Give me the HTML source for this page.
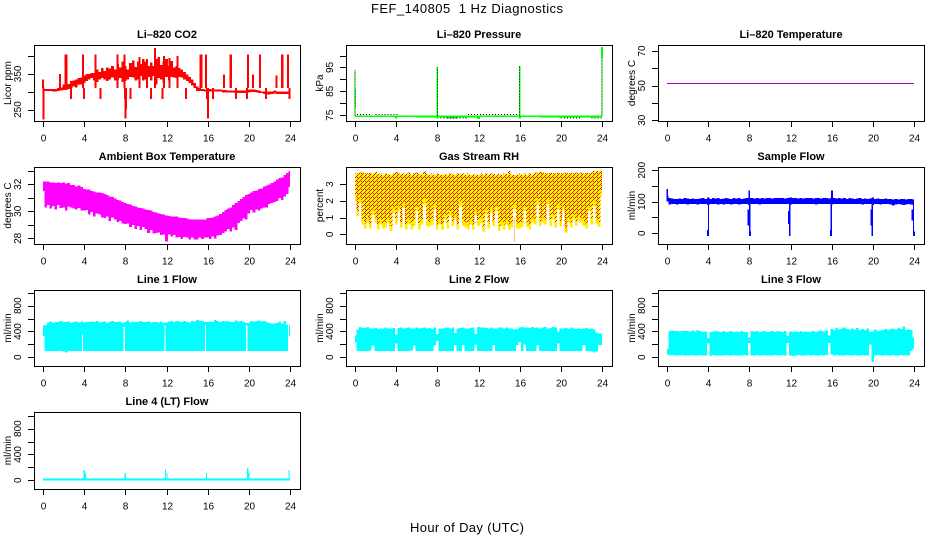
<!DOCTYPE html>
<html lang="en">
<head>
<meta charset="utf-8">
<title>FEF_140805 1 Hz Diagnostics</title>
<style>
html,body{margin:0;padding:0;background:#fff;}
svg{display:block;font-family:"Liberation Sans",sans-serif;}
text{fill:#000;}
</style>
</head>
<body>
<svg id="chart" xmlns="http://www.w3.org/2000/svg" width="936" height="540" viewBox="0 0 936 540">
  <defs>
    <pattern id="rh-hatch" patternUnits="userSpaceOnUse" width="4" height="4">
      <rect width="4" height="4" fill="#ffff00" shape-rendering="crispEdges"/>
      <rect x="0" y="0" width="1" height="1" fill="#ff0000" shape-rendering="crispEdges"/>
      <rect x="1" y="1" width="1" height="1" fill="#ff0000" shape-rendering="crispEdges"/>
      <rect x="3" y="1" width="1" height="1" fill="#ff0000" shape-rendering="crispEdges"/>
      <rect x="2" y="2" width="1" height="1" fill="#ff0000" shape-rendering="crispEdges"/>
      <rect x="1" y="3" width="1" height="1" fill="#ff0000" shape-rendering="crispEdges"/>
    </pattern>
  </defs>
  <text x="467" y="13" font-size="13" text-anchor="middle" textLength="192" lengthAdjust="spacing" xml:space="preserve">FEF_140805  1 Hz Diagnostics</text>
  <text x="467" y="532" font-size="13" text-anchor="middle" textLength="114" lengthAdjust="spacing">Hour of Day (UTC)</text>
</svg>
<script>
/* shared x axis */
const hourTicks = [0,4,8,12,16,20,24];
const binHours = [0,0.25,0.5,0.75,1,1.25,1.5,1.75,2,2.25,2.5,2.75,3,3.25,3.5,3.75,4,4.25,4.5,4.75,5,5.25,5.5,5.75,6,6.25,6.5,6.75,7,7.25,7.5,7.75,8,8.25,8.5,8.75,9,9.25,9.5,9.75,10,10.25,10.5,10.75,11,11.25,11.5,11.75,12,12.25,12.5,12.75,13,13.25,13.5,13.75,14,14.25,14.5,14.75,15,15.25,15.5,15.75,16,16.25,16.5,16.75,17,17.25,17.5,17.75,18,18.25,18.5,18.75,19,19.25,19.5,19.75,20,20.25,20.5,20.75,21,21.25,21.5,21.75,22,22.25,22.5,22.75,23,23.25,23.5,23.75,24];

/* Li-820 CO2 */
const co2High = [312,308,308,308,308,308,310,312,320,318,322,330,332,335,338,340,345,350,350,352,352,362,356,366,358,368,365,372,362,378,368,385,372,362,380,388,370,385,378,392,385,372,382,372,392,398,375,385,392,372,386,368,372,366,362,355,348,342,335,325,315,310,308,306,307,307,306,306,306,306,305,305,304,304,304,304,304,303,303,304,306,306,306,305,303,301,300,300,300,301,303,301,301,301,301,301,301];
const co2Low = [302,302,302,302,300,300,302,304,305,305,308,310,315,312,320,320,325,330,335,338,332,328,335,338,335,330,335,340,332,335,338,328,330,335,342,340,332,335,344,332,335,342,332,344,320,338,335,325,342,332,342,340,338,342,340,335,330,325,318,310,302,302,302,300,300,300,300,301,300,300,298,298,298,298,298,297,297,297,296,296,298,299,299,298,296,296,294,292,292,294,295,294,294,294,294,294,294];
const co2SpikeHours = [0.02,0.05,1.65,2.2,2.28,2.7,3.9,3.97,5.1,5.6,6.2,7.25,7.9,7.95,8.02,8.08,8.5,8.9,9.4,10.1,10.5,10.9,11.15,11.6,11.75,12.3,13.05,13.9,13.95,15.3,15.38,15.85,15.92,16.05,16.5,17.6,18.2,18.28,18.75,19.8,19.9,20.4,21.1,21.65,22.7,23.2,23.28,23.8,23.95];
const co2SpikeValues = [335,222,350,405,405,279,405,279,405,279,311,405,405,279,225,250,279,311,398,392,279,423,311,279,400,395,400,279,311,405,405,405,280,225,279,348,405,405,279,279,405,348,405,279,345,405,405,405,280];

/* Li-820 Pressure */
const pressureHigh = [75,75,75,75,75,75,75,75,75,75,75,75,75,75,75,75,75,75,75,75,74.9,74.9,74.9,74.9,74.9,74.9,74.9,74.9,74.9,74.9,74.9,74.9,74.9,74.9,74.9,74.9,74.9,74.9,74.9,74.9,74.9,74.9,74.9,74.9,74.9,74.9,74.9,74.9,74.9,74.9,74.9,75,75,75,75,75,75,75,75,75,75,75,75,75,75,75,75,74.9,74.9,74.9,74.9,74.9,74.9,74.9,74.9,74.9,74.9,74.9,74.9,74.9,74.9,74.9,74.9,74.9,74.9,74.9,74.9,74.9,74.9,74.9,74.9,74.9,74.9,74.9,74.9,74.9,74.9];
const pressureLow = [74.2,74.2,74.2,74.2,74.2,74.2,74.2,74.2,74.2,74.2,74.2,74.2,74.2,74.2,74.2,74.2,73.6,74.2,74.2,74.2,74.2,74.2,74.2,74.2,74.1,74.1,74.1,74.1,74.1,74.1,74.1,74.1,73.6,74.1,74.1,74.1,74.1,74.1,74.1,74.1,74.1,74.1,74.1,74.1,74.1,74.1,74.1,74.1,73.5,74.2,74.2,74.2,74.2,74.2,74.2,74.2,74.2,74.2,74.2,74.2,74.2,74.2,74.2,74.2,73.6,74.2,74.2,74.2,74.2,74.2,74.2,74.2,74.1,74.1,74.1,74.1,74.1,74.1,74.1,74.1,73.7,74.1,74.1,74.1,74.1,74.1,74.1,74.1,74.1,74.1,74.1,74.1,74.1,74.1,74.1,74.1,73.7];
const pressureDotStarts = [0.2,2,11,14.5,8,9,20,23];
const pressureDotEnds = [1.5,4.2,15.5,16.2,10,11,22,24];
const pressureDotValues = [75.3,75.3,75.3,75.3,73.9,73.9,73.9,73.9];
const pressureSpikeHours = [0.02,8,16,24];
const pressureSpikeHighs = [94,95.3,95.6,99];
const pressureGreenHours = [0.03,8,16,24];
const pressureGreenLows = [78,75,75,99];
const pressureGreenHighs = [86,95.3,95.6,103.5];
const pressureFaintHours = [0.02,24];
const pressureFaintHighs = [94,99];

/* Li-820 Temperature */
const temperatureHours = [0,2,4,6,8,10,12,14,16,18,20,22,24];
const temperatureValues = [51.3,51.3,51.3,51.3,51.3,51.3,51.3,51.3,51.3,51.3,51.3,51.3,51.3];

/* Ambient Box Temperature */
const ambientHigh = [32.2,32.2,32.2,32.15,32.15,32.1,32.15,32.1,32.15,32.05,32.1,31.95,31.95,31.85,31.9,31.8,31.65,31.6,31.6,31.5,31.45,31.4,31.4,31.35,31.3,31.2,31.1,31.05,30.95,30.85,30.8,30.7,30.6,30.55,30.5,30.4,30.35,30.3,30.25,30.2,30.15,30.1,30.05,29.95,29.9,29.85,29.8,29.75,29.7,29.65,29.6,29.6,29.6,29.55,29.5,29.5,29.45,29.4,29.4,29.4,29.4,29.4,29.4,29.4,29.5,29.5,29.55,29.6,29.7,29.8,29.95,30.1,30.2,30.3,30.45,30.6,30.75,30.9,31.05,31.2,31.3,31.4,31.5,31.55,31.65,31.7,31.85,31.9,32,32.1,32.2,32.35,32.45,32.5,32.7,32.85,33];
const ambientLow = [31.5,30.3,30.45,30.2,30.4,30.15,30.45,30.25,30.3,30.05,30.35,30.3,30.2,30.15,30.25,30.05,30.05,30.1,29.75,29.95,29.6,29.85,29.75,29.55,29.5,29.6,29.3,29.55,29.4,29.2,29.3,29.1,29.05,29.1,28.85,29,28.7,28.9,28.6,28.85,28.7,28.4,28.6,28.35,28.4,28.45,28.25,28.3,27.75,28.3,28.15,28.25,28.05,28.1,27.95,28.1,28.05,27.9,28.05,27.9,27.9,28.05,27.95,28.05,28.05,27.95,28.15,28,28.2,28.25,28.4,28.5,28.7,28.5,28.8,28.6,29.15,29.3,29.45,29.4,29.85,30.1,29.9,30.15,30.05,30.2,30.3,30.3,30.55,30.6,30.7,30.75,31,30.85,31.1,31.3,31.8];

/* Gas Stream RH */
const rhHigh = [3.65,3.65,3.7,3.75,3.65,3.65,3.7,3.6,3.75,3.6,3.65,3.55,3.65,3.6,3.55,3.65,3.75,3.65,3.6,3.65,3.6,3.7,3.55,3.65,3.7,3.6,3.55,3.75,3.6,3.55,3.65,3.55,3.65,3.6,3.55,3.6,3.55,3.65,3.6,3.55,3.65,3.6,3.65,3.55,3.65,3.55,3.6,3.55,3.55,3.65,3.55,3.65,3.55,3.65,3.6,3.55,3.6,3.55,3.65,3.6,3.8,3.55,3.55,3.55,3.65,3.55,3.65,3.55,3.65,3.55,3.75,3.65,3.75,3.7,3.65,3.65,3.7,3.65,3.65,3.7,3.65,3.65,3.7,3.65,3.7,3.65,3.7,3.65,3.7,3.65,3.7,3.65,3.7,3.8,3.8,3.8,3.8];
const rhLow = [2,1.1,1.9,0.6,0.35,0.75,0.35,1.2,0.7,0.3,0.6,0.35,0.4,0.7,0.2,1.3,0.6,1.4,0.4,1.6,0.3,0.6,0.3,0.5,1.4,0.3,0.6,1.8,0.5,0.45,0.55,1.5,0.3,0.6,0.3,0.9,0.35,1.1,0.5,0.9,0.3,1.7,0.5,0.4,0.3,0.6,0.3,1.2,0.5,0.7,0.15,1.2,0.35,1.3,0.5,1.4,0.2,0.5,0.3,0.6,0.3,0.4,1.5,0.35,0.35,0.45,1.4,0.45,0.3,0.7,0.6,1.8,0.5,0.7,0.6,1.8,0.5,0.9,0.4,1.5,0.5,1.4,0.1,0.7,0.4,0.9,0.5,0.8,0.7,0.5,0.35,1.4,0.6,1.7,0.6,0.45,2.3];
const rhSpikeHours = [15.5,20.55];
const rhSpikeValues = [-0.45,0.05];

/* Sample Flow */
const sampleHigh = [118,112,110,109,109,110,108,111,110,108,110,109,109,110,111,109,113,109,111,110,111,109,110,111,110,109,111,110,111,109,110,111,112,112,110,111,110,112,110,111,112,110,112,111,111,112,110,112,113,111,112,110,112,110,111,112,111,110,112,111,110,112,111,110,114,112,110,111,110,112,109,111,110,109,110,111,109,110,108,110,113,109,110,108,109,110,108,109,107,108,107,109,108,107,109,108,107];
const sampleLow = [100,91,92,92,91,92,92,92,91,92,92,92,91,92,92,92,90,92,92,92,91,92,91,92,92,91,92,92,91,92,92,92,90,92,92,92,91,92,92,92,92,92,92,92,92,92,92,92,91,92,92,92,92,92,92,92,92,92,91,92,92,92,92,92,91,92,92,92,92,92,92,92,92,92,92,92,91,92,92,92,90,92,92,91,92,92,92,91,88,91,92,91,90,91,92,91,90];
const sampleSpikeHours = [0.03,4.03,8,8.05,11.93,15.97,16.03,19.93,23.95];
const sampleSpikeValues = [140,-8,135,-5,-8,-8,135,-8,-8];
const sampleBlobHours = [3.97,7.92,8.04,11.85,15.93,16.03,19.85,23.85,23.98];
const sampleBlobLows = [-8,25,-8,30,-8,100,25,40,-8];
const sampleBlobHighs = [10,75,5,70,10,135,75,75,5];

/* Line 1 Flow */
const line1High = [490,500,540,555,530,550,545,560,550,545,555,530,550,555,540,555,540,550,545,555,545,560,540,550,555,530,550,560,545,550,555,535,550,570,540,555,550,545,560,545,550,555,540,550,545,540,555,535,540,555,560,545,565,555,545,560,550,540,565,555,580,570,560,545,545,555,550,575,560,550,565,555,560,545,550,570,555,560,545,535,530,565,555,560,570,555,565,545,530,525,525,530,555,525,560,500,490];
const line1Low = [330,95,95,95,95,95,95,95,90,70,95,95,95,95,95,95,95,95,95,95,95,95,95,95,95,95,95,95,95,95,95,95,95,95,95,95,95,95,95,95,95,95,95,95,95,95,95,95,95,95,95,95,95,95,95,95,95,95,95,95,95,95,95,95,95,95,95,95,95,95,95,95,95,95,95,95,95,95,95,95,95,95,95,95,95,95,95,95,95,95,95,95,95,95,95,95,320];
const line1GapHours = [3.85,7.9,11.85,15.8,19.8,23.85];
const line1GapTops = [350,470,490,500,495,510];

/* Line 2 Flow */
const line2High = [340,430,470,455,455,470,450,445,455,440,450,445,460,445,450,455,350,455,460,445,455,465,450,445,460,450,455,465,445,455,440,460,360,450,445,455,465,450,460,380,450,455,460,445,450,455,465,360,470,460,465,455,450,460,450,445,460,465,450,460,445,450,430,440,465,470,460,465,455,470,455,460,450,465,470,445,455,470,460,400,450,445,455,440,460,450,435,450,440,450,455,435,445,430,375,370,370];
const line2Low = [230,100,100,100,100,100,105,180,100,100,100,100,100,100,100,100,210,100,100,100,100,100,105,180,100,100,100,100,100,100,100,180,250,100,100,100,100,100,100,190,100,100,190,100,100,100,100,200,100,100,100,100,100,100,190,100,100,100,100,100,100,100,100,190,240,100,200,100,100,100,100,190,100,100,100,100,100,100,100,210,100,100,100,100,100,100,100,100,100,190,100,100,90,75,90,190,190];

/* Line 3 Flow */
const line3High = [130,410,415,405,410,400,410,405,410,400,415,400,420,410,395,400,300,395,400,405,400,395,405,395,400,405,395,400,395,405,390,395,310,405,400,410,395,400,405,395,400,405,395,405,400,395,405,330,400,395,400,395,405,390,400,395,400,405,395,405,415,400,415,340,440,425,455,430,445,465,440,430,450,430,455,420,435,420,445,390,400,430,410,415,420,435,420,440,445,430,455,440,480,425,430,420,310];
const line3Low = [40,30,35,30,25,30,35,30,30,25,35,30,30,35,30,30,210,20,35,30,30,25,30,35,30,30,35,25,30,30,35,30,220,30,30,35,25,30,35,30,30,25,35,30,30,35,30,220,30,20,30,35,30,25,30,35,30,35,30,25,35,30,35,220,40,30,35,30,30,25,35,30,30,35,25,30,35,30,30,200,-70,30,35,25,30,35,30,30,35,25,30,35,30,35,30,100,130];

/* Line 4 (LT) Flow */
const line4High = [30,30,30,30,30,30,30,30,30,30,30,30,30,30,30,30,30,30,30,30,30,30,30,30,30,30,30,30,30,30,30,30,30,30,30,30,30,30,30,30,30,30,30,30,30,30,30,30,30,30,30,30,30,30,30,30,30,30,30,30,30,30,30,30,30,30,30,30,30,30,30,30,30,30,30,30,30,30,30,30,30,30,30,30,30,30,30,30,30,30,30,30,30,30,30,30,30];
const line4Low = [-5,-5,-5,-5,-5,-5,-5,-5,-5,-5,-5,-5,-5,-5,-5,-5,-5,-5,-5,-5,-5,-5,-5,-5,-5,-5,-5,-5,-5,-5,-5,-5,-5,-5,-5,-5,-5,-5,-5,-5,-5,-5,-5,-5,-5,-5,-5,-5,-5,-5,-5,-5,-5,-5,-5,-5,-5,-5,-5,-5,-5,-5,-5,-5,-5,-5,-5,-5,-5,-5,-5,-5,-5,-5,-5,-5,-5,-5,-5,-5,-5,-5,-5,-5,-5,-5,-5,-5,-5,-5,-5,-5,-5,-5,-5,-5,-5];
const line4SpikeHours = [4,4.1,8,11.9,12.05,15.9,19.9,20,23.9];
const line4SpikeValues = [160,110,110,170,110,110,190,110,160];

/* y-axis tick values */
const co2Ticks = [250,300,350,400];
const co2Labels = [250,350];
const pressureTicks = [75,80,85,90,95,100];
const pressureLabels = [75,85,95];
const temperatureTicks = [30,40,50,60,70];
const temperatureLabels = [30,50,70];
const ambientTicks = [28,29,30,31,32,33];
const ambientLabels = [28,30,32];
const rhTicks = [0,1,2,3];
const rhLabels = [0,1,2,3];
const sampleTicks = [0,50,100,150,200];
const sampleLabels = [0,100,200];
const flowTicks = [0,200,400,600,800,1000];
const flowLabels = [0,400,800];

const svg = document.getElementById('chart');
const NS = 'http://www.w3.org/2000/svg';

function make(tag, attrs, parent) {
  const el = document.createElementNS(NS, tag);
  for (const k in attrs) el.setAttribute(k, attrs[k]);
  (parent || svg).appendChild(el);
  return el;
}

const colX = [34, 346, 658];
const rowY = [[45,121],[167,244],[290,366],[412,489]];

function slug(s) {
  return s.toLowerCase().replace(/[^a-z0-9]+/g, '-').replace(/^-|-$/g, '');
}

function createPanel(col, row, title, ylabel, yMin, yMax, ticks, labels) {
  const left = colX[col], right = left + 266;
  const top = rowY[row][0], bottom = rowY[row][1];
  const name = slug(title);
  const g = make('g', {});
  
  
  const x0 = left + 9, pxPerHour = 247 / 24;
  const p = {
    g, name, left, right, top, bottom,
    x: h => x0 + h * pxPerHour,
    y: v => bottom - (v - yMin) / (yMax - yMin) * (bottom - top)
  };
  p.marks = make('g', {'shape-rendering': 'crispEdges'}, g);
  
  

  const box = make('rect', {x: left + .5, y: top + .5, width: right - left, height: bottom - top, fill: 'none', stroke: '#000', 'stroke-width': 1, 'shape-rendering': 'crispEdges'}, g);
  
  

  const t = make('text', {x: left + 133, y: top - 7, 'font-size': 11, 'font-weight': 'bold', 'text-anchor': 'middle'}, g);
  t.textContent = title;
  
  

  const yl = make('text', {transform: 'translate(' + (left - 23) + ' ' + ((top + bottom) / 2) + ') rotate(-90)', 'font-size': 10, 'text-anchor': 'middle'}, g);
  yl.textContent = ylabel;
  
  

  hourTicks.forEach(h => {
    const px = Math.round(p.x(h)) + .5;
    const tick = make('line', {x1: px, x2: px, y1: bottom, y2: bottom + 6, stroke: '#000', 'shape-rendering': 'crispEdges'}, g);
    
    
    const lab = make('text', {x: px, y: bottom + 20.5, 'font-size': 10, 'text-anchor': 'middle'}, g);
    lab.textContent = h;
    
    
  });
  ticks.forEach(v => {
    const py = Math.round(p.y(v)) + .5;
    const tick = make('line', {x1: left - 6, x2: left, y1: py, y2: py, stroke: '#000', 'shape-rendering': 'crispEdges'}, g);
    
    
  });
  labels.forEach(v => {
    const lab = make('text', {transform: 'translate(' + (left - 13) + ' ' + p.y(v) + ') rotate(-90)', 'font-size': 10, 'text-anchor': 'middle'}, g);
    lab.textContent = v;
    
    
  });
  return p;
}

function drawBand(p, high, low, fill) {
  let d = '';
  binHours.forEach((h, i) => {
    const a = p.x(Math.max(0, h - .125)), b = p.x(Math.min(24, h + .125));
    const y1 = p.y(high[i]), y2 = p.y(low[i]);
    d += 'M' + a.toFixed(2) + ' ' + y1.toFixed(2) + 'H' + b.toFixed(2) + 'V' + y2.toFixed(2) + 'H' + a.toFixed(2) + 'Z';
  });
  const path = make('path', {d, fill}, p.marks);
  
  
  return path;
}

function drawSpikes(p, hours, values, base, stroke, width, dash) {
  let d = '';
  hours.forEach((h, i) => {
    const start = Array.isArray(base) ? base[i] : base;
    d += 'M' + p.x(h).toFixed(2) + ' ' + p.y(start).toFixed(2) + 'V' + p.y(values[i]).toFixed(2);
  });
  const attrs = {d, fill: 'none', stroke, 'stroke-width': width};
  if (dash) attrs['stroke-dasharray'] = dash;
  const path = make('path', attrs, p.marks);
  
  
  return path;
}

/* Row 1 */
const co2Panel = createPanel(0, 0, 'Li\u2013820 CO2', 'Licor ppm', 218, 431, co2Ticks, co2Labels);
drawBand(co2Panel, co2High, co2Low, '#ff0000');
drawSpikes(co2Panel, co2SpikeHours, co2SpikeValues, 310, '#ff0000', 2);

const pressurePanel = createPanel(1, 0, 'Li\u2013820 Pressure', 'kPa', 72.6, 104.4, pressureTicks, pressureLabels);
let dotPath = '';
pressureDotStarts.forEach((s, i) => {
  dotPath += 'M' + pressurePanel.x(s).toFixed(2) + ' ' + pressurePanel.y(pressureDotValues[i]).toFixed(2) + 'H' + pressurePanel.x(pressureDotEnds[i]).toFixed(2);
});
const pressureDots = make('path', {d: dotPath, fill: 'none', stroke: '#000', 'stroke-width': 1, 'stroke-dasharray': '1 2'}, pressurePanel.marks);


drawBand(pressurePanel, pressureHigh, pressureLow, '#00ff00');
drawSpikes(pressurePanel, pressureFaintHours, pressureFaintHighs, 75, '#00ff00', 1);
drawSpikes(pressurePanel, pressureGreenHours, pressureGreenHighs, pressureGreenLows, '#00ff00', 1.6);
drawSpikes(pressurePanel, pressureSpikeHours, pressureSpikeHighs, 75, '#000000', 1, '1 2');

const temperaturePanel = createPanel(2, 0, 'Li\u2013820 Temperature', 'degrees C', 29.6, 73.5, temperatureTicks, temperatureLabels);
const tempLine = make('polyline', {
  points: temperatureHours.map((h, i) => temperaturePanel.x(h).toFixed(2) + ',' + temperaturePanel.y(temperatureValues[i]).toFixed(2)).join(' '),
  fill: 'none', stroke: '#b000b0', 'stroke-width': 1
}, temperaturePanel.marks);



/* Row 2 */
const ambientPanel = createPanel(0, 1, 'Ambient Box Temperature', 'degrees C', 27.58, 33.28, ambientTicks, ambientLabels);
drawBand(ambientPanel, ambientHigh, ambientLow, '#ff00ff');

const rhPanel = createPanel(1, 1, 'Gas Stream RH', 'percent', -0.58, 4.03, rhTicks, rhLabels);
drawBand(rhPanel, rhHigh, rhLow, '#ffee00');
drawBand(rhPanel, rhHigh, rhLow.map(v => v + 0.3), 'url(#rh-hatch)');
drawSpikes(rhPanel, rhSpikeHours, rhSpikeValues, 1, '#ff8800', 1, '1 1');

const samplePanel = createPanel(2, 1, 'Sample Flow', 'ml/min', -34, 210, sampleTicks, sampleLabels);
drawBand(samplePanel, sampleHigh, sampleLow, '#0000ff');
drawSpikes(samplePanel, sampleSpikeHours, sampleSpikeValues, 100, '#0000ff', 1.4);
drawSpikes(samplePanel, sampleBlobHours, sampleBlobLows, sampleBlobHighs, '#0000ff', 2);

/* Row 3 */
const line1Panel = createPanel(0, 2, 'Line 1 Flow', 'ml/min', -136, 1044, flowTicks, flowLabels);
drawBand(line1Panel, line1High, line1Low, '#00ffff');
drawSpikes(line1Panel, line1GapHours, line1GapTops, 85, '#ffffff', 1.2);

const line2Panel = createPanel(1, 2, 'Line 2 Flow', 'ml/min', -136, 1044, flowTicks, flowLabels);
drawBand(line2Panel, line2High, line2Low, '#00ffff');

const line3Panel = createPanel(2, 2, 'Line 3 Flow', 'ml/min', -136, 1044, flowTicks, flowLabels);
drawBand(line3Panel, line3High, line3Low, '#00ffff');

/* Row 4 */
const line4Panel = createPanel(0, 3, 'Line 4 (LT) Flow', 'ml/min', -136, 1058, flowTicks, flowLabels);
drawBand(line4Panel, line4High, line4Low, '#00ffff');
drawSpikes(line4Panel, line4SpikeHours, line4SpikeValues, 0, '#00ffff', 1.2);
</script>
</body>
</html>
